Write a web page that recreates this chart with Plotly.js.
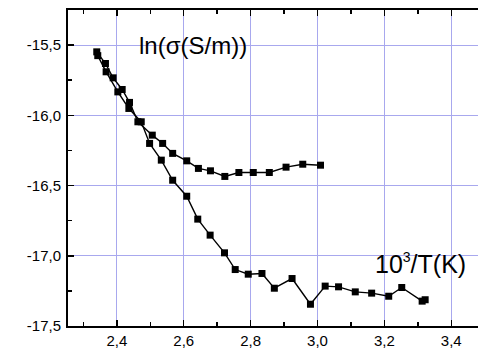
<!DOCTYPE html>
<html>
<head>
<meta charset="utf-8">
<script src="https://cdn.plot.ly/plotly-3.0.1.min.js"></script>
<style>html,body{margin:0;padding:0;background:#fff;}#chart{width:478px;height:351px;}</style>
</head>
<body>
<div id="chart"></div>
<script>
// Upper curve
var upperX = [2.340, 2.366, 2.389, 2.416, 2.438, 2.463, 2.506, 2.537, 2.567, 2.609, 2.644, 2.680, 2.723, 2.765, 2.808, 2.856, 2.906, 2.956, 3.009];
var upperY = [-15.548, -15.631, -15.733, -15.816, -15.908, -16.046, -16.141, -16.200, -16.271, -16.324, -16.378, -16.395, -16.435, -16.407, -16.407, -16.407, -16.369, -16.348, -16.355];
// Lower curve
var lowerX = [2.343, 2.368, 2.403, 2.436, 2.473, 2.498, 2.533, 2.567, 2.609, 2.642, 2.679, 2.722, 2.754, 2.793, 2.834, 2.871, 2.924, 2.979, 3.023, 3.063, 3.113, 3.162, 3.213, 3.252, 3.313, 3.322];
var lowerY = [-15.575, -15.690, -15.833, -15.951, -16.046, -16.200, -16.319, -16.462, -16.576, -16.739, -16.853, -16.979, -17.098, -17.131, -17.126, -17.231, -17.162, -17.345, -17.216, -17.221, -17.257, -17.266, -17.288, -17.226, -17.323, -17.313];
var xTicks = [2.4, 2.6, 2.8, 3.0, 3.2, 3.4];
var yTicks = [-15.5, -16.0, -16.5, -17.0, -17.5];
var yLabel = 'ln(σ(S/m))';
var xLabel = '10<sup><span style="font-size:14px">3</span></sup>/T(K)';

var lineStyle = {color: '#000', width: 1.4};
var markerStyle = {symbol: 'square', size: 7, color: '#000'};
var traces = [
  {x: upperX, y: upperY, mode: 'lines+markers', line: lineStyle, marker: markerStyle, showlegend: false, hoverinfo: 'none'},
  {x: lowerX, y: lowerY, mode: 'lines+markers', line: lineStyle, marker: markerStyle, showlegend: false, hoverinfo: 'none'}
];
var tickFont = {family: 'Liberation Sans, Arial, sans-serif', size: 15, color: '#000'};
var layout = {
  width: 478, height: 351,
  margin: {l: 68, r: 0, t: 10, b: 25, pad: 0},
  paper_bgcolor: '#fff', plot_bgcolor: '#fff',
  separators: ',.',
  xaxis: {
    range: [2.254, 3.48], tickmode: 'array', tickvals: xTicks,
    ticktext: xTicks.map(function(v){return v.toFixed(1).replace('.', ',');}),
    ticks: 'inside', ticklen: 6, tickwidth: 1.5, tickcolor: '#000',
    showline: true, linewidth: 2, linecolor: '#000', mirror: 'ticks',
    showgrid: true, gridcolor: '#a8a8ee', gridwidth: 1, zeroline: false,
    minor: {tickvals: [2.3, 2.5, 2.7, 2.9, 3.1, 3.3], ticks: 'inside', ticklen: 4, tickwidth: 1.5, tickcolor: '#000', showgrid: false},
    tickfont: tickFont
  },
  yaxis: {
    range: [-17.5, -15.25], tickmode: 'array', tickvals: yTicks,
    ticktext: yTicks.map(function(v){return v.toFixed(1).replace('.', ',');}),
    ticks: 'inside', ticklen: 6, tickwidth: 1.5, tickcolor: '#000',
    showline: true, linewidth: 2, linecolor: '#000', mirror: false,
    showgrid: true, gridcolor: '#a8a8ee', gridwidth: 1, zeroline: false,
    ticklabelstandoff: 2,
    minor: {tickvals: [-15.75, -16.25, -16.75, -17.25], ticks: 'inside', ticklen: 4, tickwidth: 1.5, tickcolor: '#000', showgrid: false},
    tickfont: tickFont
  },
  shapes: [
    {type: 'rect', xref: 'paper', yref: 'paper', x0: 0.151, x1: 0.461, y0: 0.826, y1: 1, fillcolor: '#fff', line: {width: 0}, layer: 'between'},
    {type: 'rect', xref: 'paper', yref: 'paper', x0: 0.72, x1: 1, y0: 0.136, y1: 0.241, fillcolor: '#fff', line: {width: 0}, layer: 'between'}
  ],
  annotations: [
    {text: yLabel, xref: 'paper', yref: 'paper', x: 0.305, y: 0.889, xanchor: 'center', yanchor: 'middle', showarrow: false,
     font: {family: 'Liberation Sans, Arial, sans-serif', size: 24, color: '#000'}},
    {text: xLabel, xref: 'paper', yref: 'paper', x: 0.859, y: 0.199, xanchor: 'center', yanchor: 'middle', showarrow: false,
     font: {family: 'Liberation Sans, Arial, sans-serif', size: 25, color: '#000'}}
  ]
};
Plotly.newPlot('chart', traces, layout, {displayModeBar: false, staticPlot: true});
</script>
</body>
</html>
